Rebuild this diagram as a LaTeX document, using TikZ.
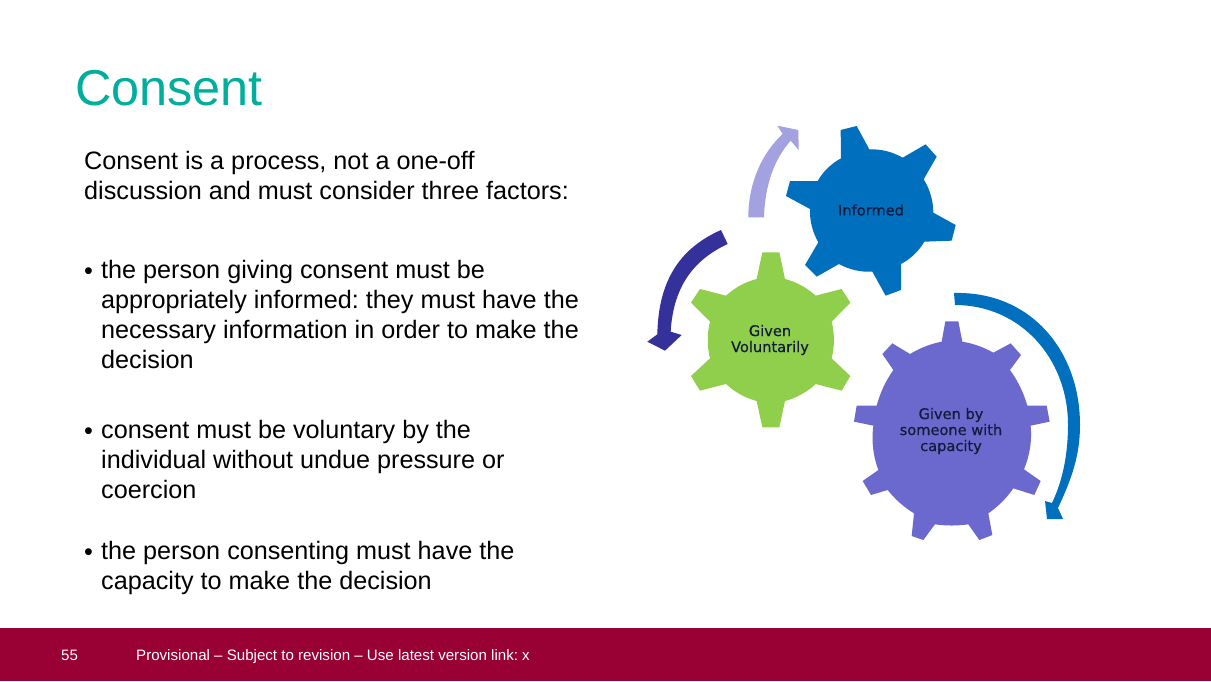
\documentclass[tikz,border=0pt]{standalone}
\usepackage{fontspec}
\setmainfont{Liberation Sans}
\newfontfamily\gearfont[FakeBold=0.5]{DejaVu Sans}
\frenchspacing
\definecolor{teal1}{HTML}{00AE9E}
\definecolor{bar}{HTML}{990033}
\definecolor{gblue}{HTML}{0070BE}
\definecolor{ggreen}{HTML}{90CF4C}
\definecolor{gpurple}{HTML}{6C69CE}
\definecolor{alight}{HTML}{A3A1E0}
\definecolor{adark}{HTML}{35319B}
\definecolor{geartext}{HTML}{141A3C}
\tikzset{
 body/.style={anchor=north west,inner sep=0pt,align=left,font=\fontsize{25.2}{30}\selectfont,text=black},
 bulletmark/.style={anchor=base west,inner sep=0pt,font=\fontsize{25.2}{30}\selectfont},
 gearlabel/.style={align=center,inner sep=0pt,text=geartext,font=\gearfont\fontsize{14.6}{16}\selectfont},
 foot/.style={anchor=base west,inner sep=0pt,text=white,font=\fontsize{15.1}{18}\selectfont},
 every to/.style={looseness=0.87},
 Z/.style={shift={(640,110)},xscale=1/3,yscale=1/3},
 Y/.style={shift={(840,280)},xscale=1/3,yscale=1/3}
}
\begin{document}
\begin{tikzpicture}[x=1pt,y=-1pt]
\useasboundingbox (0,0) rectangle (1211,681);
\fill[white] (0,0) rectangle (1211,681);
\fill[bar] (0,628) rectangle (1211,681);
\node[anchor=base west,inner sep=0pt,text=teal1,font=\fontsize{50.4}{56}\selectfont] (title) at (75,105) {Consent};
\node[body] (intro) at (84,151.5) {Consent is a process, not a one-off\\discussion and must consider three factors:};
\node[body] (b1) at (101,260.5) {the person giving consent must be\\appropriately informed: they must have the\\necessary information in order to make the\\decision};
\node[body] (b2) at (101,420.5) {consent must be voluntary by the\\individual without undue pressure or\\coercion};
\node[body] (b3) at (101,541.5) {the person consenting must have the\\capacity to make the decision};
\node[bulletmark] (m1) at (84,279) {•};
\node[bulletmark] (m2) at (84,439) {•};
\node[bulletmark] (m3) at (84,560) {•};
\node[foot] (num) at (61,660) {55};
\node[foot] (note) at (136,660) {Provisional – Subject to revision – Use latest version link: x};
\begin{scope}[Z]
\fill[alight] (325,322) .. controls (325,220) and (365,130) .. (428,72) -- (412,47) -- (475,60) -- (476,120) -- (452,92) .. controls (405,145) and (375,220) .. (372,322) -- cycle;
\fill[adark] (243,360) .. controls (130,410) and (55,500) .. (52,673) -- (22,695) -- (75,722) -- (125,675) -- (92,665) .. controls (100,530) and (160,450) .. (263,402) -- cycle;
\fill[gblue] (603,145) -- (602,60) -- (650,48) -- (688,118) to[bend left=16] (788,143) -- (857,103) -- (890,140) -- (851,208) to[bend left=16] (880,308) -- (947,345) -- (935,392) -- (853,395) to[bend left=16] (783,462) -- (783,540) -- (737,557) -- (697,485) to[bend left=16] (597,462) -- (530,500) -- (495,465) -- (535,397) to[bend left=16] (510,297) -- (438,258) -- (450,213) -- (533,213) to[bend left=16] cycle;
\fill[ggreen] (350,507) -- (367,427) -- (418,427) -- (435,507) to[bend left=14] (527,557) -- (605,537) -- (631,578) -- (575,635) to[bend left=14] (575,745) -- (631,798) -- (605,842) -- (527,822) to[bend left=14] (435,873) -- (418,952) -- (367,952) -- (350,873) to[bend left=14] (258,822) -- (180,842) -- (153,798) -- (210,745) to[bend left=14] (210,635) -- (153,578) -- (180,537) -- (258,557) to[bend left=14] cycle;
\end{scope}
\fill[gblue] (954,293) .. controls (1030,291) and (1080,350) .. (1080,425) .. controls (1080,455) and (1072,478) .. (1058,508) -- (1063,519) -- (1047,519) -- (1045,501) -- (1052,503) .. controls (1064,478) and (1068,450) .. (1068,425) .. controls (1068,358) and (1020,305) .. (955,305) -- cycle;
\begin{scope}[Y]
\fill[gpurple] (305,185) -- (316,124) -- (355,124) -- (367,185) to[bend left=10] (460,218) -- (512,190) -- (543,225) -- (510,270) to[bend left=10] (562,377) -- (620,377) -- (629,425) -- (572,437) to[bend left=14] (552,568) -- (602,603) -- (583,645) -- (520,625) to[bend left=10] (445,700) -- (457,765) -- (418,780) -- (385,733) to[bend left=8] (285,733) -- (250,780) -- (215,768) -- (222,700) to[bend left=10] (143,630) -- (93,645) -- (68,603) -- (115,570) to[bend left=14] (100,437) -- (42,425) -- (50,377) -- (110,377) to[bend left=10] (160,270) -- (127,222) -- (157,190) -- (210,222) to[bend left=10] cycle;
\end{scope}
\node[gearlabel] (informed) at (871,210) {Informed};
\node[gearlabel] (volunt) at (770,340) {Given\\Voluntarily};
\node[gearlabel] (capac) at (951,431) {Given by\\someone with\\capacity};
\end{tikzpicture}
\end{document}
